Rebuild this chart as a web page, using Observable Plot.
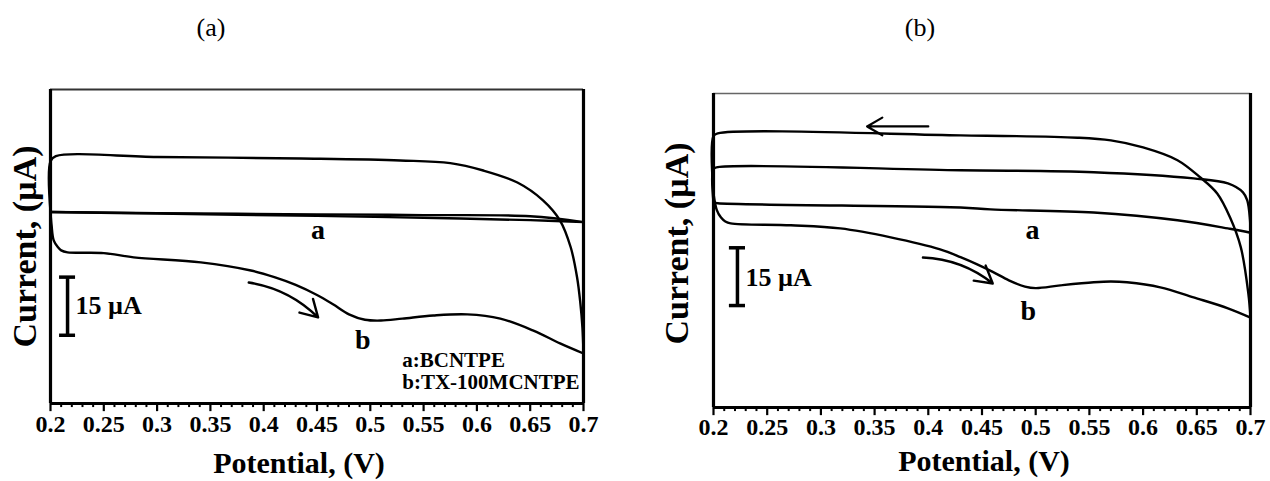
<!DOCTYPE html>
<html><head><meta charset="utf-8">
<script src="https://cdn.jsdelivr.net/npm/d3@7"></script>
<script src="https://cdn.jsdelivr.net/npm/@observablehq/plot@0.6"></script>
<style>
body{margin:0;background:#fff;}
#wrap{position:relative;width:1270px;height:481px;overflow:hidden;background:#fff;}
.title{position:absolute;font-family:"Liberation Serif",serif;font-size:26px;transform:translate(-50%,-50%);color:#000;}
#pa{position:absolute;left:0;top:50px;}
#pb{position:absolute;left:640px;top:50px;}
</style></head><body>
<div id="wrap"><div id="pa"></div><div id="pb"></div>
<div class="title" style="left:211px;top:28px">(a)</div>
<div class="title" style="left:920px;top:28px">(b)</div></div>
<script>
// axis definitions
const xDomain = [0.2, 0.7];
const yDomain = [0, 81]; // µA, arbitrary offset (no y ticks in original)
const tickLabels = ["0.2","0.25","0.3","0.35","0.4","0.45","0.5","0.55","0.6","0.65","0.7"];
const xLabel = "Potential, (V)";
const yLabel = "Current, (\u00B5A)";

// Panel (a): a = BCNTPE loop, b = TX-100MCNTPE loop
const potA_aFwd = [0.2, 0.3, 0.45, 0.55, 0.65, 0.7];
const curA_aFwd = [49.4, 49.0, 48.4, 47.9, 47.3, 46.8];
const potA_aRev = [0.7, 0.65, 0.55, 0.45, 0.3, 0.2];
const curA_aRev = [46.8, 48.3, 48.6, 48.8, 49.1, 49.4];
const potA_bFwd = [0.2, 0.201, 0.203, 0.207, 0.21, 0.216, 0.25, 0.278, 0.341, 0.388, 0.41, 0.43, 0.45, 0.465, 0.48, 0.495, 0.51, 0.53, 0.559, 0.591, 0.622, 0.653, 0.678, 0.7];
const curA_bFwd = [49.4, 46.0, 42.1, 40.3, 39.5, 39.0, 38.8, 37.7, 36.4, 34.3, 32.6, 30.6, 28.0, 25.6, 23.0, 21.6, 21.4, 21.9, 22.7, 23.0, 21.9, 18.8, 15.5, 12.9];
const potA_bRev = [0.7, 0.699, 0.697, 0.694, 0.688, 0.678, 0.662, 0.638, 0.606, 0.575, 0.528, 0.435, 0.3, 0.205, 0.2, 0.2];
const curA_bRev = [12.9, 19.6, 26.0, 32.5, 40.3, 47.2, 52.4, 57.0, 60.1, 62.0, 62.7, 63.2, 63.6, 63.8, 62.5, 49.4];

// Panel (b)
const potB_aFwd = [0.2, 0.204, 0.43, 0.458, 0.554, 0.632, 0.679, 0.698, 0.7];
const curB_aFwd = [52.9, 52.7, 51.6, 51.1, 50.3, 48.3, 46.2, 45.2, 45.0];
const potB_aRev = [0.7, 0.6995, 0.697, 0.693, 0.679, 0.647, 0.554, 0.43, 0.204, 0.2, 0.2];
const curB_aRev = [45.0, 48.5, 53.4, 55.5, 57.8, 59.1, 60.7, 61.2, 62.0, 61.5, 52.9];
const potB_bFwd = [0.2, 0.203, 0.207, 0.211, 0.216, 0.272, 0.318, 0.365, 0.411, 0.43, 0.445, 0.46, 0.475, 0.49, 0.5, 0.523, 0.554, 0.57, 0.585, 0.616, 0.647, 0.679, 0.7];
const curB_bFwd = [55.2, 51.0, 49.0, 48.0, 47.5, 47.0, 46.2, 43.9, 40.8, 38.8, 37.0, 35.0, 32.8, 31.2, 30.8, 31.5, 32.3, 32.5, 32.3, 31.0, 28.4, 25.6, 23.2];
const potB_bRev = [0.7, 0.698, 0.691, 0.681, 0.669, 0.653, 0.632, 0.6, 0.57, 0.539, 0.43, 0.204, 0.2, 0.2];
const curB_bRev = [23.2, 29.4, 41.3, 49.0, 55.2, 59.4, 63.8, 67.1, 68.9, 69.6, 70.2, 70.7, 70.0, 55.2];

// annotations (data units)
const curveLabelText = ["a", "b"];
const curveLabelPotA = [0.451, 0.493];
const curveLabelCurA = [44.7, 16.3];
const curveLabelPotB = [0.497, 0.493];
const curveLabelCurB = [45.7, 25.0];
const legendText = ["a:BCNTPE", "b:TX-100MCNTPE"];
const legendPot = [0.530, 0.530];
const legendCur = [11.1, 5.4];
const scaleText = "15 \u00B5A";
const scaleBarA = {v: 0.216, lo: 17.6, hi: 32.6, tv: 0.2235, tc: 25.3};
const scaleBarB = {v: 0.2223, lo: 26.3, hi: 41.2, tv: 0.2298, tc: 33.6};
const curvedArrowA = [{x1: 0.386, y1: 31.2, x2: 0.451, y2: 22.2}];
const curvedArrowB = [{x1: 0.395, y1: 38.7, x2: 0.460, y2: 32.0}];
const straightArrowB = [{x1: 0.400, y1: 72.5, x2: 0.343, y2: 72.5}];
const noArrows = [];
const minorTickLen = 1.05; // µA (≈4 px)
const majorTickLen = 2.1;  // µA (≈8 px)

function branch(id, P, C) { return P.map((p, k) => ({id, v: p, c: C[k]})); }
const tickValues = tickLabels.map(Number);
const minorTicks = d3.range(20, 71).map(d => d / 100).filter(d => !tickValues.includes(d));

function panel(o) {
  const sb = o.scaleBar;
  return Plot.plot({
    width: o.width, height: 431,
    marginLeft: o.ml, marginRight: o.mr, marginTop: o.mt, marginBottom: o.mb,
    x: {domain: xDomain, axis: null},
    y: {domain: yDomain, axis: null},
    style: {fontFamily: "Liberation Serif, serif", background: "transparent", color: "#000"},
    marks: [
      Plot.ruleX(minorTicks, {x: d => d, y1: 0, y2: -minorTickLen, stroke: "#000", strokeWidth: 2}),
      Plot.ruleX(tickValues, {x: d => d, y1: 0, y2: -majorTickLen, stroke: "#000", strokeWidth: 2.2}),
      Plot.text(tickLabels, {x: d => Number(d), y: yDomain[0], dy: o.tickDy, lineAnchor: "middle", fontSize: 24, fontWeight: "bold"}),
      Plot.ruleY([yDomain[1]], {stroke: o.topStroke, strokeWidth: o.topWidth}),
      Plot.ruleY([yDomain[0]], {stroke: "#000", strokeWidth: 3}),
      Plot.ruleX(xDomain, {stroke: "#000", strokeWidth: 3.2}),
      Plot.line(o.lines, {x: "v", y: "c", z: "id", curve: "catmull-rom", stroke: "#000", strokeWidth: 2.4}),
      Plot.ruleX([sb], {x: "v", y1: "lo", y2: "hi", stroke: "#000", strokeWidth: 3.5}),
      Plot.ruleY([sb.lo, sb.hi], {x1: sb.v - 0.0075, x2: sb.v + 0.0075, stroke: "#000", strokeWidth: 3.5}),
      Plot.text([scaleText], {x: sb.tv, y: sb.tc, textAnchor: "start", fontSize: 26, fontWeight: "bold"}),
      Plot.arrow(o.curved, {x1: "x1", y1: "y1", x2: "x2", y2: "y2", bend: 18, stroke: "#000", strokeWidth: 2.4, headLength: 12}),
      Plot.arrow(o.straight, {x1: "x1", y1: "y1", x2: "x2", y2: "y2", stroke: "#000", strokeWidth: 2.2, headLength: 12}),
      Plot.text(curveLabelText, {x: (d, i) => o.labPot[i], y: (d, i) => o.labCur[i], fontSize: 28, fontWeight: "bold"}),
      ...(o.legend ? [Plot.text(legendText, {x: (d, i) => legendPot[i], y: (d, i) => legendCur[i], textAnchor: "start", fontSize: 21, fontWeight: "bold"})] : []),
      Plot.text([yLabel], {frameAnchor: "left", textAnchor: "middle", lineAnchor: "middle", rotate: -90, dx: o.ylDx, dy: o.ylDy, fontSize: 34, fontWeight: "bold"}),
      Plot.text([xLabel], {frameAnchor: "bottom", textAnchor: "middle", lineAnchor: "middle", dx: o.xlDx, dy: o.xlDy, fontSize: 30, fontWeight: "bold"})
    ]
  });
}

const linesA = [
  ...branch("a-f", potA_aFwd, curA_aFwd), ...branch("a-r", potA_aRev, curA_aRev),
  ...branch("b-f", potA_bFwd, curA_bFwd), ...branch("b-r", potA_bRev, curA_bRev)
];
const linesB = [
  ...branch("a-f", potB_aFwd, curB_aFwd), ...branch("a-r", potB_aRev, curB_aRev),
  ...branch("b-f", potB_bFwd, curB_bFwd), ...branch("b-r", potB_bRev, curB_bRev)
];

document.getElementById("pa").append(panel({
  width: 620, ml: 50, mr: 37, mt: 39, mb: 78, lines: linesA, curved: curvedArrowA, straight: noArrows,
  labPot: curveLabelPotA, labCur: curveLabelCurA, legend: true, scaleBar: scaleBarA,
  topStroke: "#333", topWidth: 2, ylDx: -25, ylDy: 0, xlDx: -18, xlDy: 60, tickDy: 21
}));
document.getElementById("pb").append(panel({
  width: 630, ml: 73, mr: 20, mt: 43, mb: 74, lines: linesB, curved: curvedArrowB, straight: straightArrowB,
  labPot: curveLabelPotB, labCur: curveLabelCurB, legend: false, scaleBar: scaleBarB,
  topStroke: "#666", topWidth: 1.3, ylDx: -36, ylDy: -7, xlDx: 2, xlDy: 54, tickDy: 20
}));
</script>
</body></html>
